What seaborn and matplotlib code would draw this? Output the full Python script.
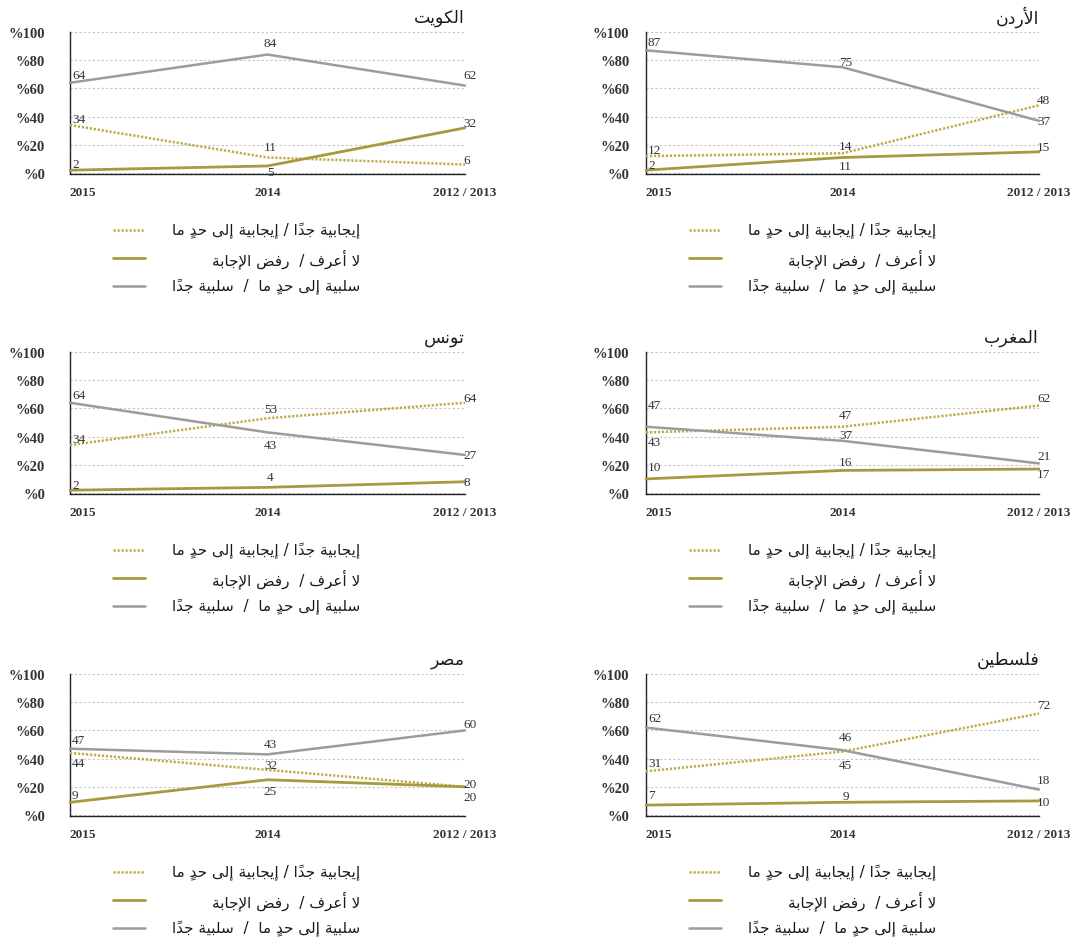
import matplotlib
matplotlib.use("Agg")
import matplotlib.pyplot as plt
from matplotlib.lines import Line2D
import pandas as pd
import seaborn as sns

# ---- data (panels ordered right-to-left, top-to-bottom) ----
years = ["2015", "2014", "2012 / 2013"]
countries = ["الأردن", "الكويت", "المغرب", "تونس", "فلسطين", "مصر"]
positive = [[12, 14, 48], [34, 11, 6], [43, 47, 62], [34, 53, 64], [31, 45, 72], [44, 32, 20]]
dont_know = [[2, 11, 15], [2, 5, 32], [10, 16, 17], [2, 4, 8], [7, 9, 10], [9, 25, 20]]
negative = [[87, 75, 37], [64, 84, 62], [47, 37, 21], [64, 43, 27], [62, 46, 18], [47, 43, 60]]
series_names = [
    "إيجابية جدًا / إيجابية إلى حدٍ ما",
    "لا أعرف /  رفض الإجابة",
    "سلبية إلى حدٍ ما  /  سلبية جدًا",
]
y_ticklabels = ["%0", "%20", "%40", "%60", "%80", "%100"]

# ---- styling ----
W, H = 1079, 945
C_POS, C_DK, C_NEG = "#bcad4a", "#a79a3e", "#9c9c9c"
TXT = "#333333"

# panel geometry in pixels: (left, top of 100 line, zero line, width, ytick pad)
geom = [
    (646, 33, 174, 393, 12), (70, 33, 174, 395, 18),
    (646, 353, 494, 393, 12), (70, 353, 494, 395, 18),
    (646, 675, 816, 393, 12), (70, 675, 816, 395, 18),
]
# vertical offsets (px, negative = above the point) for the value labels
lab_dy = [
    ([-6, -7, -5], [-5, 9, -5], [-8, -5, 0]),
    ([-6, -10, -5], [-6, 6, -5], [-8, -12, -11]),
    ([10, -12, -8], [-12, -8, 5], [-22, -6, -7]),
    ([-6, -9, -5], [-5, -10, 0], [-8, 13, 0]),
    ([-8, 13, -8], [-10, -6.5, 1], [-10, -13, -10]),
    ([10, -4.5, -3], [-7, 11, 10], [-9, -10, -6]),
]

# ---- minimal Arabic shaping (matplotlib has no complex text layout) ----
FORMS = {
    "\u0627": ("\ufe8d", "\ufe8e", None, None),
    "\u0623": ("\ufe83", "\ufe84", None, None),
    "\u0625": ("\ufe87", "\ufe88", None, None),
    "\u0628": ("\ufe8f", "\ufe90", "\ufe91", "\ufe92"),
    "\u0629": ("\ufe93", "\ufe94", None, None),
    "\u062a": ("\ufe95", "\ufe96", "\ufe97", "\ufe98"),
    "\u062c": ("\ufe9d", "\ufe9e", "\ufe9f", "\ufea0"),
    "\u062d": ("\ufea1", "\ufea2", "\ufea3", "\ufea4"),
    "\u062f": ("\ufea9", "\ufeaa", None, None),
    "\u0631": ("\ufead", "\ufeae", None, None),
    "\u0633": ("\ufeb1", "\ufeb2", "\ufeb3", "\ufeb4"),
    "\u0635": ("\ufeb9", "\ufeba", "\ufebb", "\ufebc"),
    "\u0636": ("\ufebd", "\ufebe", "\ufebf", "\ufec0"),
    "\u0637": ("\ufec1", "\ufec2", "\ufec3", "\ufec4"),
    "\u0639": ("\ufec9", "\ufeca", "\ufecb", "\ufecc"),
    "\u063a": ("\ufecd", "\ufece", "\ufecf", "\ufed0"),
    "\u0641": ("\ufed1", "\ufed2", "\ufed3", "\ufed4"),
    "\u0643": ("\ufed9", "\ufeda", "\ufedb", "\ufedc"),
    "\u0644": ("\ufedd", "\ufede", "\ufedf", "\ufee0"),
    "\u0645": ("\ufee1", "\ufee2", "\ufee3", "\ufee4"),
    "\u0646": ("\ufee5", "\ufee6", "\ufee7", "\ufee8"),
    "\u0648": ("\ufeed", "\ufeee", None, None),
    "\u0649": ("\ufeef", "\ufef0", None, None),
    "\u064a": ("\ufef1", "\ufef2", "\ufef3", "\ufef4"),
}
LAM_ALEF = {"\u0627": ("\ufefb", "\ufefc"), "\u0623": ("\ufef7", "\ufef8"), "\u0625": ("\ufef9", "\ufefa")}
HARAKAT = "\u064b\u064c\u064d\u064e\u064f\u0650\u0651\u0652"


def shape_word(word):
    # returns the word in logical order, letters replaced by their joined forms
    cl = []
    i = 0
    while i < len(word):
        ch = word[i]
        if ch in HARAKAT and cl:
            cl[-1][1] += ch
            i += 1
            continue
        if ch == "\u0644":
            j, marks = i + 1, ""
            while j < len(word) and word[j] in HARAKAT:
                marks += word[j]
                j += 1
            if j < len(word) and word[j] in LAM_ALEF:
                cl.append([word[j], marks, True])
                i = j + 1
                continue
        cl.append([ch, "", False])
        i += 1

    def dual(c):
        return (not c[2]) and c[0] in FORMS and FORMS[c[0]][2] is not None

    def letter(c):
        return c[2] or c[0] in FORMS

    out = []
    for k, c in enumerate(cl):
        if not letter(c):
            out.append(c[0] + c[1])
            continue
        prev = k > 0 and dual(cl[k - 1])
        nxt = dual(c) and k + 1 < len(cl) and letter(cl[k + 1])
        if c[2]:
            g = LAM_ALEF[c[0]][1 if prev else 0]
        else:
            f = FORMS[c[0]]
            g = f[3] if (prev and nxt) else f[1] if prev else f[2] if nxt else f[0]
        out.append(g + c[1])
    return "".join(out)


def shape(text):
    # shape every word, then lay the whole line out right-to-left
    return " ".join(shape_word(w) for w in text.split(" "))[::-1]


sns.set_style("white")
plt.rcParams["font.family"] = ["Liberation Serif", "DejaVu Sans"]
AR = "DejaVu Sans"

fig = plt.figure(figsize=(W / 100, H / 100), dpi=100)

LW = [1.8, 2.0, 1.8]
LS = [(0, (0.9, 0.7)), "-", "-"]
COLS = [C_POS, C_DK, C_NEG]

for i, name in enumerate(countries):
    left, top, zero, width, ypad = geom[i]
    pxu = (zero - top) / 100.0
    bottom = zero + 1.0 * pxu
    ax = fig.add_axes([left / W, 1 - bottom / H, width / W, (bottom - top) / H])

    vals_all = [positive[i], dont_know[i], negative[i]]
    for j in (2, 0, 1):
        vals = vals_all[j]
        df = pd.DataFrame({"x": [0, 1, 2], "value": vals})
        sns.lineplot(data=df, x="x", y="value", ax=ax, color=COLS[j], lw=LW[j],
                     linestyle=LS[j], clip_on=False, zorder=3 + j)
        for k, v in enumerate(vals):
            dx = [2, 3, -2][k]
            ha = ["left", "center", "left"][k]
            ax.annotate(str(v), xy=(k, v), xytext=(dx * 0.72, -lab_dy[i][j][k] * 0.72),
                        textcoords="offset points", ha=ha, va="center",
                        fontsize=9.5, color=TXT, zorder=10)

    ax.set_xlim(0, 2)
    ax.set_ylim(-1, 100)
    ax.set_xlabel("")
    ax.set_ylabel("")
    ax.set_yticks(range(0, 101, 20))
    ax.set_yticklabels(y_ticklabels)
    ax.set_xticks([0, 1, 2])
    ax.set_xticklabels(years)
    ax.tick_params(axis="y", length=0, pad=ypad, labelsize=10.5, labelcolor=TXT)
    ax.tick_params(axis="x", length=6, width=0.8, direction="inout", pad=5,
                   labelsize=9.5, labelcolor=TXT, color="#222222")
    for t in ax.get_yticklabels() + ax.get_xticklabels():
        t.set_fontweight("bold")
    ax.get_xticklabels()[0].set_ha("left")
    ax.grid(axis="y", color="#c4c4c4", ls=(0, (2, 2)), lw=0.8)
    ax.grid(axis="x", visible=False)
    sns.despine(ax=ax)
    for s in ("left", "bottom"):
        ax.spines[s].set_color("#222222")
        ax.spines[s].set_linewidth(1.0)

    ax.annotate(shape(name), xy=(1, 1), xycoords="axes fraction", xytext=(0, 11),
                textcoords="offset points", ha="right", va="center",
                fontsize=12.5, family=AR, color="#1a1a1a")

    # legend under each panel
    for j, lbl in enumerate(series_names):
        y = 1 - (zero + [57, 85, 113][j]) / H
        fig.add_artist(Line2D([(left + 43) / W, (left + 75) / W], [y, y],
                              transform=fig.transFigure, color=COLS[j], lw=LW[j], ls=LS[j]))
        fig.text((left + 290) / W, y, shape(lbl), ha="right", va="center",
                 fontsize=11, family=AR, color="#1a1a1a")

fig.savefig("out.png", dpi=100)
